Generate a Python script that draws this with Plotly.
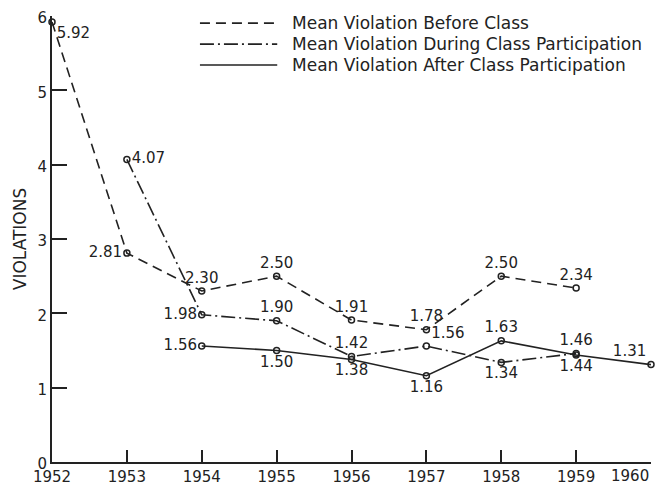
import plotly.graph_objects as go

years_before = [1952, 1953, 1954, 1955, 1956, 1957, 1958, 1959]
before = [5.92, 2.81, 2.30, 2.50, 1.91, 1.78, 2.50, 2.34]
before_pos = ["bottom right", "middle left", "top center", "top center", "top center",
              "top center", "top center", "top center"]

years_during = [1953, 1954, 1955, 1956, 1957, 1958, 1959]
during = [4.07, 1.98, 1.90, 1.42, 1.56, 1.34, 1.46]
during_pos = ["middle right", "middle left", "top center", "top center", "top right",
              "bottom center", "top center"]

years_after = [1954, 1955, 1956, 1957, 1958, 1959, 1960]
after = [1.56, 1.50, 1.38, 1.16, 1.63, 1.44, 1.31]
after_pos = ["middle left", "bottom center", "bottom center", "bottom center",
             "top center", "bottom center", "top left"]

series_names = ["Mean Violation Before Class",
                "Mean Violation During Class Participation",
                "Mean Violation After Class Participation"]

x_ticks = list(range(1952, 1961))
x_labels = [str(v) for v in x_ticks]
y_ticks = [0, 1, 2, 3, 4, 5, 6]

INK = "#222222"
FONT = "DejaVu Sans"

fig = go.Figure()

def add(xs, ys, pos, dash, name):
    fig.add_trace(go.Scatter(
        x=xs, y=ys, mode="lines+markers+text", name=name,
        text=[f"{v:.2f}" for v in ys], textposition=pos,
        textfont=dict(family=FONT, size=15, color=INK),
        line=dict(color=INK, width=1.6, dash=dash),
        marker=dict(symbol="circle-open", size=6, color=INK, line=dict(width=1.5)),
        cliponaxis=False, showlegend=False))

dash_before = "10px,6px"
dash_during = "14px,4px,2px,4px"
add(years_before, before, before_pos, dash_before, series_names[0])
add(years_during, during, during_pos, dash_during, series_names[1])
add(years_after, after, after_pos, "solid", series_names[2])

# manual legend
leg_y = [0.984, 0.937, 0.890]
dashes = [dash_before, dash_during, "solid"]
for yy, dsh, nm in zip(leg_y, dashes, series_names):
    fig.add_shape(type="line", xref="paper", yref="paper", x0=0.247, x1=0.376,
                  y0=yy, y1=yy, line=dict(color=INK, width=1.6, dash=dsh))
    fig.add_annotation(xref="paper", yref="paper", x=0.397, y=yy, text=nm,
                       showarrow=False, xanchor="left", yanchor="middle",
                       font=dict(family=FONT, size=17, color=INK))

fig.add_annotation(xref="paper", yref="paper", x=-0.053, y=0.5, text="VIOLATIONS",
                   textangle=-90, showarrow=False, xanchor="center", yanchor="middle",
                   font=dict(family=FONT, size=17, color=INK))

# last year label is right-aligned to its tick, as in the original
shown_labels = x_labels[:-1] + [""]
fig.add_annotation(x=x_ticks[-1], xref="x", yref="paper", y=0, yshift=-14,
                   text=x_labels[-1], showarrow=False, xanchor="right", yanchor="middle",
                   font=dict(family=FONT, size=15, color=INK))

fig.update_xaxes(range=[1952, 1960], tickvals=x_ticks, ticktext=shown_labels,
                 showgrid=False, zeroline=False, showline=True, linecolor=INK, linewidth=2,
                 ticks="inside", ticklen=12, tickwidth=1.6, tickcolor=INK, automargin=False,
                 tickfont=dict(family=FONT, size=15, color=INK))
fig.update_yaxes(range=[0, 6], tickvals=y_ticks, showgrid=False, zeroline=False,
                 showline=True, linecolor=INK, linewidth=2, automargin=False,
                 ticks="inside", ticklen=15, tickwidth=1.6, tickcolor=INK,
                 ticklabelshift=2,
                 tickfont=dict(family=FONT, size=15, color=INK))

fig.update_layout(width=664, height=486, margin=dict(l=52, r=13, t=16, b=24),
                  plot_bgcolor="white", paper_bgcolor="white", showlegend=False)

fig.write_html("out.html", config={"displayModeBar": False},
               post_script="document.body.style.margin='0';")
